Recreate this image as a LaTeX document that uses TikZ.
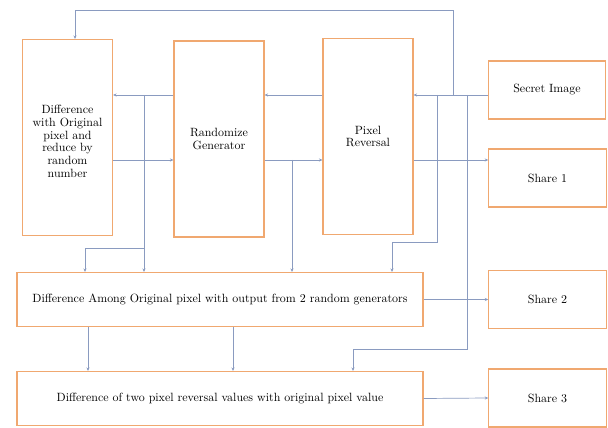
\documentclass[tikz,border=0pt]{standalone}
\usepackage[dvipsnames]{xcolor}
\usepackage{tikz}
\usetikzlibrary{arrows.meta}

\definecolor{boxedge}{HTML}{F0A870}
\definecolor{wire}{HTML}{8A9BC0}

\tikzset{
  block/.style={draw=boxedge, line width=0.9pt, fill=white, align=center, font=\fontsize{10.2}{10.8}\selectfont, inner sep=2pt},
  tallbox/.style={block, minimum width=2.7cm, minimum height=5.88cm},
  sharebox/.style={block, minimum width=3.52cm, minimum height=1.74cm},
  widebox/.style={block, minimum width=12.18cm, minimum height=1.62cm},
  link/.style={draw=wire, line width=0.6pt, -{Stealth[length=3pt,width=2.6pt]}},
  wireonly/.style={draw=wire, line width=0.6pt}
}

\begin{document}
\begin{tikzpicture}[x=0.03cm, y=-0.03cm]
\useasboundingbox (0,0) rectangle (608,428);
% blocks of the upper row
\node [tallbox] (diffA) at (67.5,137.5) {\\[3pt]Difference\\with Original\\pixel and\\reduce by\\random\\number};
\node [tallbox] (randgen) at (219,139) {Randomize\\Generator};
\node [tallbox] (pixrev) at (368,136.5) {Pixel\\Reversal};
% boxes on the right
\node [sharebox] (secret) at (547,90) {Secret Image};
\node [sharebox] (share1) at (547.5,178) {Share 1};
\node [sharebox] (share2) at (547.5,299.5) {Share 2};
\node [sharebox] (share3) at (547.5,398) {Share 3};
% wide boxes
\node [widebox] (diffamong) at (220,299.5) {Difference Among Original pixel with output from 2 random generators};
\node [widebox] (diffpix) at (220,398.5) {Difference of two pixel reversal values with original pixel value};

% rows and taps
\coordinate (rowa) at (0,95);
\coordinate (rowb) at (0,160);
\coordinate (tapL) at (144,95);
\coordinate (tapM) at (292,160);
\coordinate (tapP) at (437,95);
\coordinate (tapS) at (453,95);
\coordinate (tapQ) at (467,95);

% horizontal links, y = 95
\draw [link] (secret.west |- rowa) -- (pixrev.east |- rowa);
\draw [link] (pixrev.west |- rowa) -- (randgen.east |- rowa);
\draw [link] (randgen.west |- rowa) -- (diffA.east |- rowa);
% horizontal links, y = 160
\draw [link] (diffA.east |- rowb) -- (randgen.west |- rowb);
\draw [link] (randgen.east |- rowb) -- (pixrev.west |- rowb);
\draw [link] (pixrev.east |- rowb) -- (share1.west |- rowb);

% loop over the top
\draw [link] (tapS) -- (453,10) -| ([xshift=0.225cm]diffA.north);

% down to the first wide box
\draw [link] (tapL) -- (tapL |- diffamong.north);
\draw [link] (144,248) -| ([xshift=-4.05cm]diffamong.north);
\draw [link] (tapM) -- (tapM |- diffamong.north);
\draw [link] (tapP) -- (437,242) -| ([xshift=5.16cm]diffamong.north);
% down to the second wide box
\draw [link] (tapQ) -- (467,349) -| ([xshift=3.99cm]diffpix.north);
\draw [link] ([xshift=-3.96cm]diffamong.south) -- ([xshift=-3.96cm]diffpix.north);
\draw [link] ([xshift=0.39cm]diffamong.south) -- ([xshift=0.39cm]diffpix.north);

% outputs
\draw [link] (diffamong.east) -- (share2.west);
\draw [link] (diffpix.east) -- (share3.west);
\end{tikzpicture}
\end{document}
